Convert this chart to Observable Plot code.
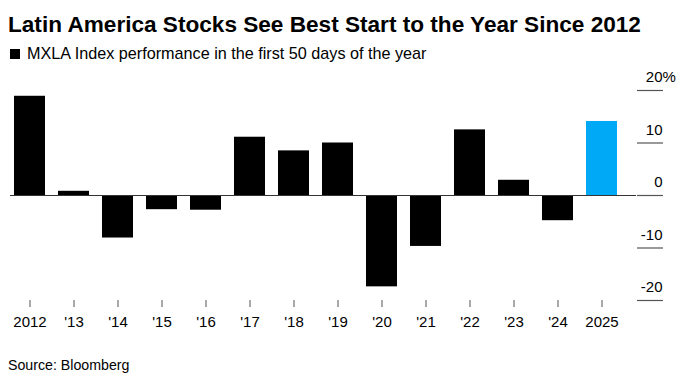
<!DOCTYPE html>
<html>
<head>
<meta charset="utf-8">
<script src="https://cdn.jsdelivr.net/npm/d3@7"></script>
<script src="https://cdn.jsdelivr.net/npm/@observablehq/plot@0.6"></script>
<style>
  body { margin: 0; background: #fff; font-family: "Liberation Sans", Arial, sans-serif; }
  #wrap { position: relative; width: 688px; height: 385px; overflow: hidden; }
  .title { position: absolute; left: 8px; top: 14px; font-size: 22.6px; line-height: 1; font-weight: bold; color: #000; white-space: nowrap; }
  .sub { position: absolute; left: 10px; top: 44.5px; font-size: 16.2px; line-height: 1; color: #000; white-space: nowrap; }
  .sq { display: inline-block; width: 10px; height: 10px; background: #000; margin-right: 7px; }
  #chart { position: absolute; left: 0; top: 64px; }
  .src { position: absolute; left: 8px; top: 358px; font-size: 14.2px; line-height: 1; color: #000; white-space: nowrap; }
</style>
</head>
<body>
<div id="wrap">
  <div class="title">Latin America Stocks See Best Start to the Year Since 2012</div>
  <div class="sub"><span class="sq"></span>MXLA Index performance in the first 50 days of the year</div>
  <div id="chart"></div>
  <div class="src">Source: Bloomberg</div>
</div>
<script>
const years = [2012, 2013, 2014, 2015, 2016, 2017, 2018, 2019, 2020, 2021, 2022, 2023, 2024, 2025];
const performance = [18.9, 0.8, -8.1, -2.7, -2.8, 11.1, 8.5, 10.0, -17.4, -9.7, 12.5, 2.9, -4.8, 14.1];
const yearLabels = ["2012", "'13", "'14", "'15", "'16", "'17", "'18", "'19", "'20", "'21", "'22", "'23", "'24", "2025"];
const yTicks = [-20, -10, 0, 10, 20];
const pctTick = [20];
const highlightYear = 2025;

const data = years.map((year, i) => ({year, value: performance[i]}));

const BLACK = "#000000";
const BLUE = "#00a9f5";

const chart = Plot.plot({
  width: 688,
  height: 280,
  marginLeft: 10,
  marginRight: 52,
  marginTop: 26,
  marginBottom: 44,
  style: { fontFamily: "'Liberation Sans', Arial, sans-serif", fontSize: "15px", color: "#000", background: "transparent" },
  x: { type: "band", domain: years, range: [10, 620], paddingInner: 0.3, paddingOuter: 0 },
  y: { domain: [-20, 20] },
  marks: [
    Plot.barY(data, { x: "year", y: "value", fill: d => d.year === highlightYear ? BLUE : BLACK }),
    Plot.ruleY([0], { stroke: "#333", strokeWidth: 1.2 }),
    Plot.axisX({ tickSize: 7, tickPadding: 9, tickFormat: d => yearLabels[years.indexOf(d)], stroke: "#555", fontSize: 15, label: null }),
    Plot.axisY({ anchor: "right", ticks: yTicks, tickSize: 26, tickPadding: 0, tickFormat: () => "", stroke: "#555", strokeWidth: 1.2, label: null }),
    Plot.text(yTicks, { y: d => d, text: d => String(d), frameAnchor: "right", dx: 26, dy: -13, textAnchor: "end", fontSize: 15, fill: "#000" }),
    Plot.text(pctTick, { y: d => d, text: () => "%", frameAnchor: "right", dx: 26, dy: -13, textAnchor: "start", fontSize: 15, fill: "#000" })
  ]
});
document.getElementById("chart").appendChild(chart);
</script>
</body>
</html>
